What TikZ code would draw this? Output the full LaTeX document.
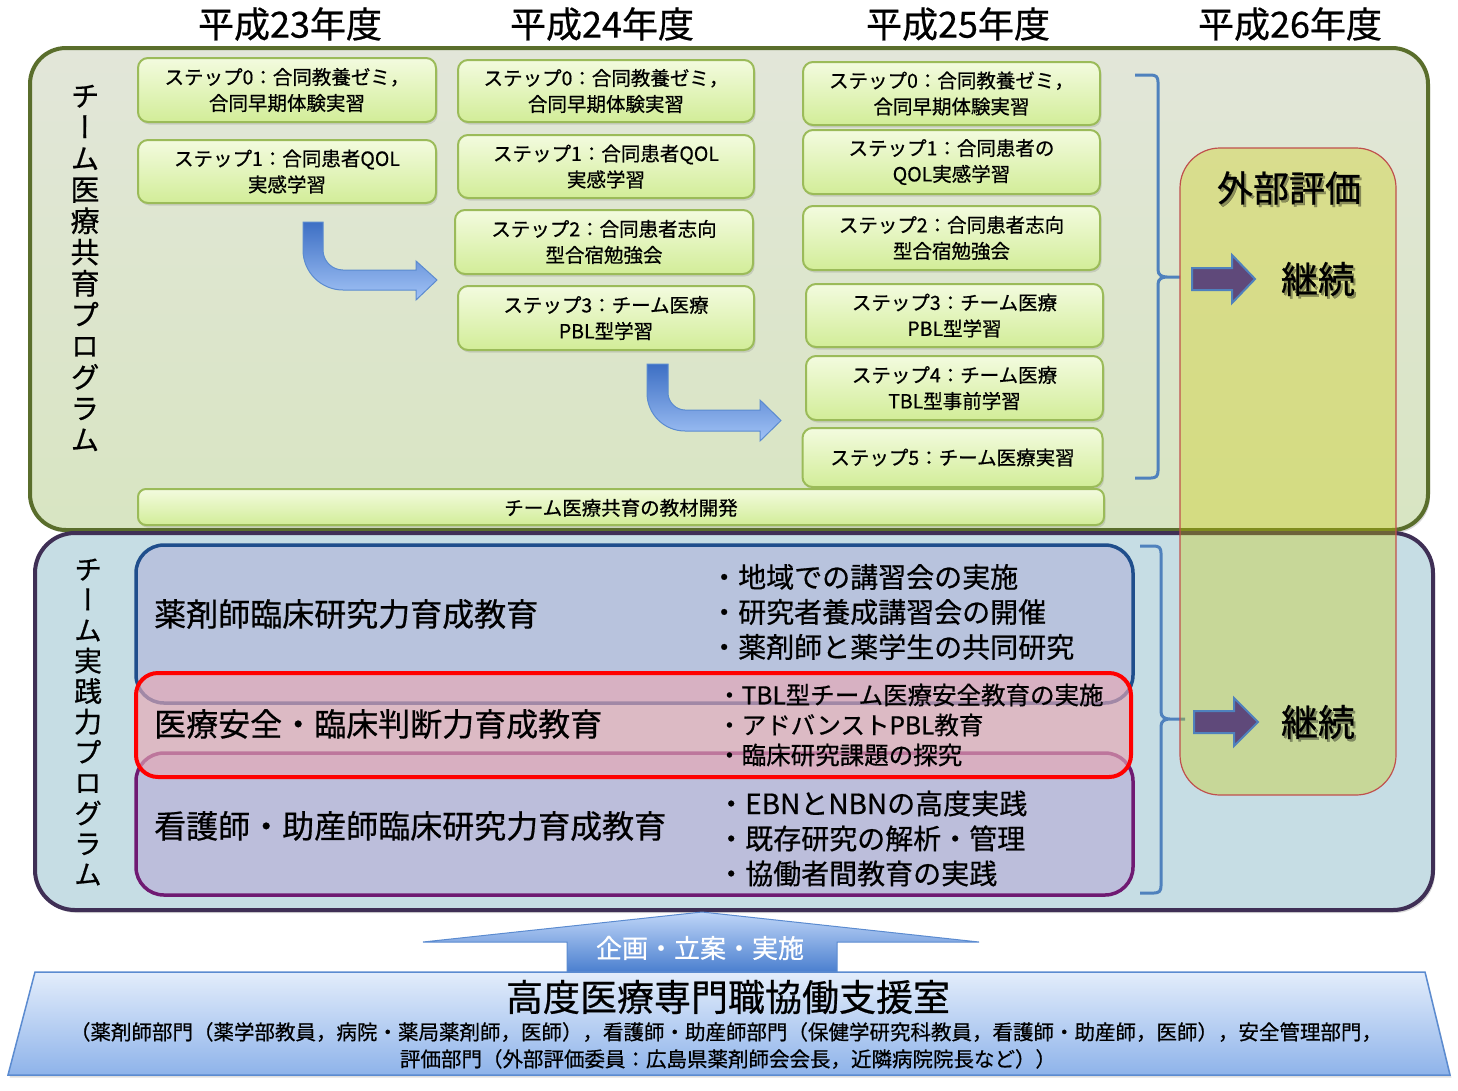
\documentclass[tikz,border=0pt]{standalone}
\usepackage{fontspec}
\setmainfont{Noto Sans CJK JP}[FakeBold=0.6]
\newfontfamily\vjp{Noto Sans CJK JP}[RawFeature=+vert,FakeBold=0.6]
\usetikzlibrary{shadows}
\definecolor{topframe}{HTML}{5A6E2C}
\definecolor{toptop}{HTML}{E2E6D9}
\definecolor{topbot}{HTML}{D8E5C2}
\definecolor{botframe}{HTML}{3F2F55}
\definecolor{botfill}{HTML}{C6DDE4}
\definecolor{stepborder}{HTML}{9BBB59}
\definecolor{steptop}{HTML}{F3FBDF}
\definecolor{stepbot}{HTML}{D2ED98}
\definecolor{bluearrowtop}{HTML}{3D6FC4}
\definecolor{bluearrowbot}{HTML}{A2C3F6}
\definecolor{bluearrowline}{HTML}{5B8BD0}
\definecolor{bracecol}{HTML}{4F81BD}
\definecolor{purplearrow}{HTML}{5F497A}
\definecolor{evalfill}{HTML}{CCCC00}
\definecolor{evalline}{HTML}{C0504D}
\definecolor{afill}{HTML}{B8C3DD}
\definecolor{aline}{HTML}{1F4E8C}
\definecolor{cfill}{HTML}{BCBEDB}
\definecolor{cline}{HTML}{6F1A72}
\definecolor{bfill}{HTML}{E8A8B4}
\definecolor{traptop}{HTML}{E3EDFB}
\definecolor{trapbot}{HTML}{8EB3EA}
\definecolor{uptop}{HTML}{C0D6F8}
\definecolor{upbot}{HTML}{4A7FCF}
\begin{document}
\begin{tikzpicture}[x=1pt,y=-1pt,
  panel/.style={line width=4pt, rounded corners=36pt, inner sep=0pt,
    drop shadow={opacity=0.3,shadow xshift=2pt,shadow yshift=-3pt}},
  stepbox/.style={draw=stepborder, line width=2pt, rounded corners=10pt,
    top color=steptop, bottom color=stepbot, align=center, inner sep=0pt,
    font=\fontsize{19.5}{26}\selectfont,
    drop shadow={opacity=0.25,shadow xshift=1.5pt,shadow yshift=-2.5pt}},
  header/.style={font=\fontsize{36}{40}\selectfont, inner sep=0pt},
  vlabel/.style={font=\vjp\fontsize{29}{31.25}\selectfont, align=center, inner sep=0pt},
  bigbox/.style={line width=3.5pt, inner sep=0pt},
  lefttitle/.style={font=\fontsize{32}{36}\selectfont, anchor=west, inner sep=0pt},
  bullets/.style={font=\fontsize{28}{35}\selectfont, anchor=west, align=left, inner sep=0pt},
  bentarrow/.style={top color=bluearrowtop, bottom color=bluearrowbot, draw=bluearrowline, line width=1pt},
  purplearr/.style={fill=purplearrow, draw=bracecol, line width=2pt},
  brace/.style={draw=bracecol, line width=3pt, line join=round},
  shadowtext/.style={text=black, text opacity=0.35, inner sep=0pt}
]
\useasboundingbox (0,0) rectangle (1458,1090);

% headers
\node[header] (h23) at (290,24) {平成23年度};
\node[header] (h24) at (602,24) {平成24年度};
\node[header] (h25) at (958,24) {平成25年度};
\node[header] (h26) at (1290,24) {平成26年度};

% panels
\node[panel, draw=topframe, top color=toptop, bottom color=topbot,
  minimum width=1398pt, minimum height=482pt] (toppanel) at (729,289) {};
\node[panel, draw=botframe, fill=botfill, rounded corners=40pt,
  minimum width=1398pt, minimum height=377pt] (botpanel) at (734,721.5) {};

% vertical labels
\node[vlabel] (vtop) at (85,268) {チ\\ー\\ム\\医\\療\\共\\育\\プ\\ロ\\グ\\ラ\\ム};
\node[vlabel, font=\vjp\fontsize{28}{30.5}\selectfont] (vbot) at (88,722) {チ\\ー\\ム\\実\\践\\力\\プ\\ロ\\グ\\ラ\\ム};

% column 1
\node[stepbox, minimum width=298pt, minimum height=64pt] (s10) at (287,90) {ステップ0：合同教養ゼミ，\\合同早期体験実習};
\node[stepbox, minimum width=298pt, minimum height=63pt] (s11) at (287,171.5) {ステップ1：合同患者QOL\\実感学習};
% column 2
\node[stepbox, minimum width=296pt, minimum height=62pt] (s20) at (606,91) {ステップ0：合同教養ゼミ，\\合同早期体験実習};
\node[stepbox, minimum width=296pt, minimum height=63pt] (s21) at (606,166.5) {ステップ1：合同患者QOL\\実感学習};
\node[stepbox, minimum width=298pt, minimum height=64pt] (s22) at (604,242) {ステップ2：合同患者志向\\型合宿勉強会};
\node[stepbox, minimum width=296pt, minimum height=64pt] (s23) at (606,318) {ステップ3：チーム医療\\PBL型学習};
% column 3
\node[stepbox, minimum width=297pt, minimum height=63pt] (s30) at (951.5,93.5) {ステップ0：合同教養ゼミ，\\合同早期体験実習};
\node[stepbox, minimum width=297pt, minimum height=64pt] (s31) at (951.5,162) {ステップ1：合同患者の\\QOL実感学習};
\node[stepbox, minimum width=297pt, minimum height=64pt] (s32) at (951.5,238) {ステップ2：合同患者志向\\型合宿勉強会};
\node[stepbox, minimum width=297pt, minimum height=63pt] (s33) at (954.5,315.5) {ステップ3：チーム医療\\PBL型学習};
\node[stepbox, minimum width=297pt, minimum height=64pt] (s34) at (954.5,388) {ステップ4：チーム医療\\TBL型事前学習};
\node[stepbox, minimum width=300pt, minimum height=59pt] (s35) at (952.5,457.5) {ステップ5：チーム医療実習};
% materials
\node[stepbox, rounded corners=8pt, minimum width=966pt, minimum height=36pt, text depth=-3pt] (mat) at (621,507) {チーム医療共育の教材開発};

% bent arrows
\path[bentarrow] (303,222) -- (303,250) .. controls (303,272) and (321,290) .. (343,290)
  -- (416,290) -- (416,300) -- (437,280) -- (416,261) -- (416,270) -- (343,270)
  .. controls (332,270) and (323,261) .. (323,250) -- (323,222) -- cycle;
\path[bentarrow] (647,364) -- (647,393) .. controls (647,414) and (664,431) .. (685,431)
  -- (760,431) -- (760,441) -- (781,420.5) -- (760,400) -- (760,410) -- (685,410)
  .. controls (676,410) and (668,402) .. (668,393) -- (668,364) -- cycle;

% brace top
\path[brace] (1135,75) -- (1151,75) .. controls (1156,75) and (1158,77) .. (1158,82)
  -- (1158,270) .. controls (1158,275) and (1162,277) .. (1167,277) -- (1180,277)
  (1167,277) .. controls (1162,277) and (1158,279) .. (1158,284)
  -- (1158,471) .. controls (1158,476) and (1156,478) .. (1151,478) -- (1135,478);
% brace bottom
\path[brace] (1140,546) -- (1154,546) .. controls (1159,546) and (1161,548) .. (1161,553)
  -- (1161,712) .. controls (1161,717) and (1165,719) .. (1170,719) -- (1185,719)
  (1170,719) .. controls (1165,719) and (1161,721) .. (1161,726)
  -- (1161,886) .. controls (1161,891) and (1159,893) .. (1154,893) -- (1140,893);

% boxes in lower panel
\node[bigbox, draw=aline, fill=afill, rounded corners=28pt, minimum width=997pt, minimum height=158pt] (boxA) at (634.5,624) {};
\node[bigbox, draw=cline, fill=cfill, rounded corners=28pt, minimum width=997pt, minimum height=142pt] (boxC) at (634.5,824) {};
\node[bigbox, draw=red, line width=4pt, fill=bfill, fill opacity=0.65, rounded corners=22pt, minimum width=995pt, minimum height=104pt] (boxB) at (633.5,725) {};

\node[lefttitle] (tA) at (154,614) {薬剤師臨床研究力育成教育};
\node[lefttitle] (tB) at (154,724) {医療安全・臨床判断力育成教育};
\node[lefttitle] (tC) at (154,826) {看護師・助産師臨床研究力育成教育};

\node[bullets] (bA) at (710,612) {・地域での講習会の実施\\・研究者養成講習会の開催\\・薬剤師と薬学生の共同研究};
\node[bullets, font=\fontsize{24.5}{30}\selectfont] (bB) at (717,725) {・TBL型チーム医療安全教育の実施\\・アドバンストPBL教育\\・臨床研究課題の探究};
\node[bullets] (bC) at (717,838.5) {・EBNとNBNの高度実践\\・既存研究の解析・管理\\・協働者間教育の実践};

% external evaluation box
\node[draw=evalline, line width=1.2pt, fill=evalfill, fill opacity=0.33, draw opacity=1,
  rounded corners=40pt, minimum width=216pt, minimum height=647pt, inner sep=0pt] (evalbox) at (1288,471.5) {};
\node[shadowtext, font=\fontsize{36}{40}\selectfont] (evaltitleshadow) at (1291,190.5) {外部評価};
\node[font=\fontsize{36}{40}\selectfont, inner sep=0pt] (evaltitle) at (1289,188) {外部評価};
\node[shadowtext, font=\fontsize{37}{40}\selectfont] (cont1shadow) at (1320,281.5) {継続};
\node[font=\fontsize{37}{40}\selectfont, inner sep=0pt] (cont1) at (1318,279) {継続};
\node[shadowtext, font=\fontsize{37}{40}\selectfont] (cont2shadow) at (1320,724.5) {継続};
\node[font=\fontsize{37}{40}\selectfont, inner sep=0pt] (cont2) at (1318,722) {継続};
\path[purplearr] (1192,268) -- (1232,268) -- (1232,255) -- (1255,279) -- (1232,303) -- (1232,290) -- (1192,290) -- cycle;
\path[purplearr] (1194,711) -- (1234,711) -- (1234,698) -- (1258,722) -- (1234,746) -- (1234,733) -- (1194,733) -- cycle;

% bottom: up arrow and support office
\path[top color=uptop, bottom color=upbot, draw=bluearrowline, line width=1pt]
  (567,972) -- (567,942) -- (423,942) -- (702,912) -- (979,942) -- (837,942) -- (837,972) -- cycle;
\node[font=\fontsize{26}{30}\selectfont, text=white, inner sep=0pt] (plan) at (700,948) {企画・立案・実施};
\path[top color=traptop, bottom color=trapbot, draw=bluearrowline, line width=1.5pt,
  drop shadow={opacity=0.25,shadow xshift=1.5pt,shadow yshift=-2.5pt}]
  (35,972) -- (1425,972) -- (1450,1075) -- (8,1075) -- cycle;
\node[font=\fontsize{37}{40}\selectfont, inner sep=0pt] (office) at (728,997) {高度医療専門職協働支援室};
\node[font=\fontsize{20.5}{24}\selectfont, inner sep=0pt] (office1) at (726,1032) {（薬剤師部門（薬学部教員，病院・薬局薬剤師，医師），看護師・助産師部門（保健学研究科教員，看護師・助産師，医師），安全管理部門，};
\node[font=\fontsize{20.5}{24}\selectfont, inner sep=0pt] (office2) at (728,1059) {評価部門（外部評価委員：広島県薬剤師会会長，近隣病院院長など））};
\end{tikzpicture}
\end{document}
